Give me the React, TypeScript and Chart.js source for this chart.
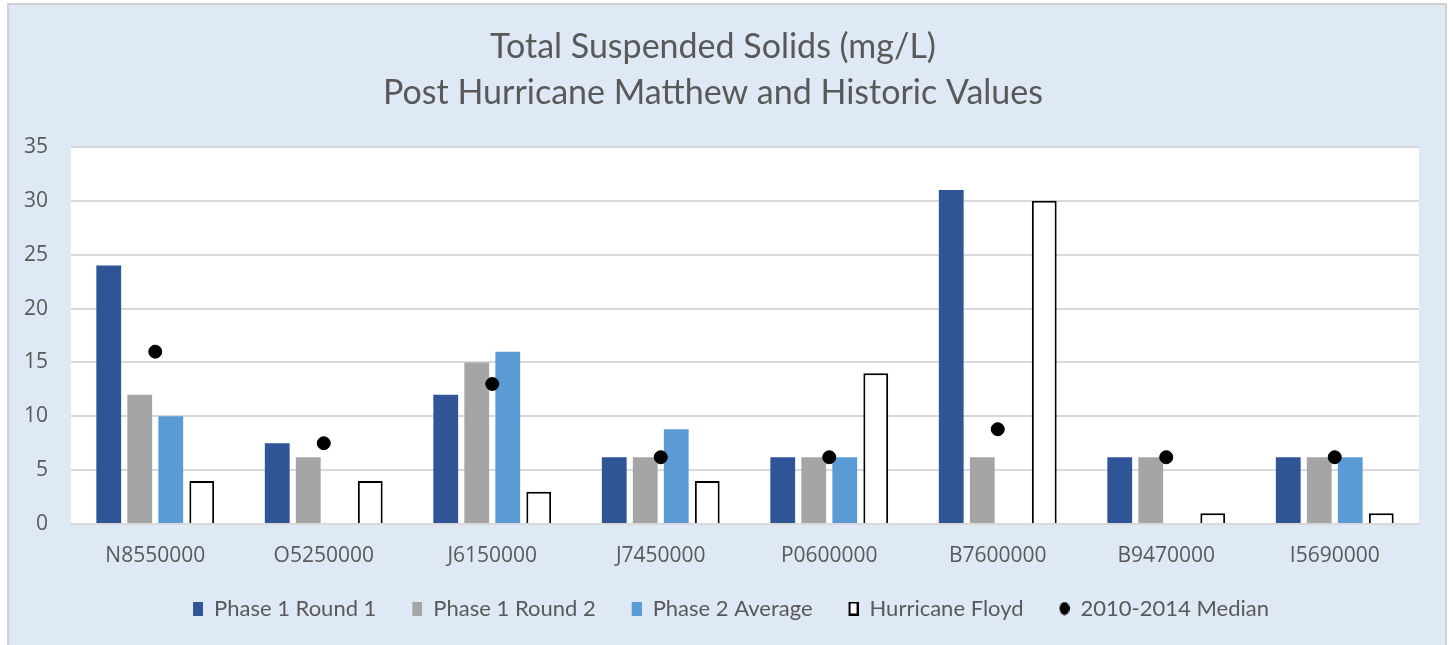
import React, { useEffect, useRef } from "react";
import { Chart, registerables } from "chart.js";

Chart.register(...registerables);

const categories = ["N8550000", "O5250000", "J6150000", "J7450000", "P0600000", "B7600000", "B9470000", "I5690000"];
const phase1Round1 = [24, 7.5, 12, 6.2, 6.2, 31, 6.2, 6.2];
const phase1Round2 = [12, 6.2, 15, 6.2, 6.2, 6.2, 6.2, 6.2];
const phase2Average = [10, null, 16, 8.8, 6.2, null, null, 6.2];
const hurricaneFloyd = [4, 4, 3, 4, 14, 30, 1, 1];
const median20102014 = [16, 7.5, 13, 6.2, 6.2, 8.8, 6.2, 6.2];
const titleLines = ["Total Suspended Solids (mg/L)", "Post Hurricane Matthew and Historic Values"];
const legendOrder = ["Phase 1 Round 1", "Phase 1 Round 2", "Phase 2 Average", "Hurricane Floyd", "2010-2014 Median"];

const BG = "#dee9f5";
const MARK_W = 46;

const bgPlugin = {
  id: "bgPlugin",
  beforeDraw(chart: any) {
    const { ctx, chartArea, width, height } = chart;
    ctx.save();
    ctx.fillStyle = BG;
    ctx.fillRect(0, 0, width, height);
    ctx.fillStyle = "#ffffff";
    ctx.fillRect(chartArea.left, chartArea.top, chartArea.right - chartArea.left, chartArea.bottom - chartArea.top);
    ctx.strokeStyle = "#d0d0d0";
    ctx.lineWidth = 2;
    ctx.strokeRect(1, 1, width - 2, height + 10);
    ctx.restore();
  },
};

function makeMark(kind: string, color: string) {
  const c = document.createElement("canvas");
  c.width = MARK_W;
  c.height = 14;
  const x = c.getContext("2d")!;
  const left = MARK_W - 10;
  if (kind === "dot") {
    x.fillStyle = color;
    x.beginPath();
    x.ellipse(left + 5, 7, 5, 6.5, 0, 0, Math.PI * 2);
    x.fill();
  } else if (kind === "outline") {
    x.fillStyle = "#ffffff";
    x.fillRect(left, 0, 10, 14);
    x.strokeStyle = color;
    x.lineWidth = 2;
    x.strokeRect(left + 1, 1, 8, 12);
  } else {
    x.fillStyle = color;
    x.fillRect(left, 0, 10, 14);
  }
  return c;
}

export default function App() {
  const ref = useRef<HTMLCanvasElement>(null);
  useEffect(() => {
    if (!ref.current) return;
    const marks: Record<string, HTMLCanvasElement> = {
      "Phase 1 Round 1": makeMark("box", "#2f5597"),
      "Phase 1 Round 2": makeMark("box", "#a5a5a5"),
      "Phase 2 Average": makeMark("box", "#5b9bd5"),
      "Hurricane Floyd": makeMark("outline", "#000000"),
      "2010-2014 Median": makeMark("dot", "#000000"),
    };
    const chart = new Chart(ref.current, {
      type: "bar",
      data: {
        labels: categories,
        datasets: [
          {
            type: "line" as any,
            label: "2010-2014 Median",
            data: median20102014,
            showLine: false,
            pointRadius: 6.5,
            pointHoverRadius: 6.5,
            pointBackgroundColor: "#000000",
            pointBorderColor: "#000000",
            backgroundColor: "#000000",
            borderColor: "#000000",
            pointStyle: "circle",
            order: 0,
          } as any,
          {
            label: "Phase 1 Round 1",
            data: phase1Round1,
            backgroundColor: "#2f5597",
            order: 1,
          },
          {
            label: "Phase 1 Round 2",
            data: phase1Round2,
            backgroundColor: "#a5a5a5",
            order: 1,
          },
          {
            label: "Phase 2 Average",
            data: phase2Average,
            backgroundColor: "#5b9bd5",
            order: 1,
          },
          {
            label: "Hurricane Floyd",
            data: hurricaneFloyd,
            backgroundColor: "#ffffff",
            borderColor: "#000000",
            borderWidth: { top: 2, left: 2, right: 2, bottom: 0 },
            order: 1,
          },
        ],
      },
      options: {
        responsive: false,
        animation: false,
        layout: { padding: { left: 0, right: 28, top: 0, bottom: 15.5 } },
        datasets: {
          bar: { categoryPercentage: 0.736, barPercentage: 0.8 },
        },
        plugins: {
          title: {
            display: true,
            text: titleLines,
            color: "#595959",
            font: { family: "Lato", size: 34, weight: "normal" as any, lineHeight: 1.353 },
            padding: { top: 21, bottom: 31 },
          },
          legend: {
            position: "bottom",
            labels: {
              color: "#595959",
              font: { family: "Lato", size: 22 },
              usePointStyle: true,
              pointStyleWidth: MARK_W,
              boxHeight: 14,
              padding: 0,
              generateLabels: (ch: any) => {
                const items = Chart.defaults.plugins.legend.labels.generateLabels(ch);
                items.forEach((it: any) => {
                  it.pointStyle = marks[it.text];
                  it.lineWidth = 0;
                });
                return items.sort((a: any, b: any) => legendOrder.indexOf(a.text) - legendOrder.indexOf(b.text));
              },
            },
          },
          tooltip: { enabled: false },
        },
        scales: {
          x: {
            grid: { display: false, drawTicks: false },
            border: { color: "#d9d9d9", width: 2 },
            ticks: { color: "#595959", font: { family: "Open Sans", size: 21 }, padding: 19 },
            afterFit: (s: any) => {
              s.height = 73.5;
            },
          },
          y: {
            min: 0,
            max: 35,
            grid: { color: "#d9d9d9", lineWidth: 2, drawTicks: false },
            border: { display: false },
            ticks: { stepSize: 5, color: "#595959", font: { family: "Open Sans", size: 21 }, padding: 23 },
            afterFit: (s: any) => {
              s.width = 64;
            },
          },
        },
      },
      plugins: [bgPlugin],
    });
    return () => chart.destroy();
  }, []);
  return (
    <div style={{ position: "absolute", left: 7, top: 3 }}>
      <canvas ref={ref} width={1440} height={642} />
    </div>
  );
}
